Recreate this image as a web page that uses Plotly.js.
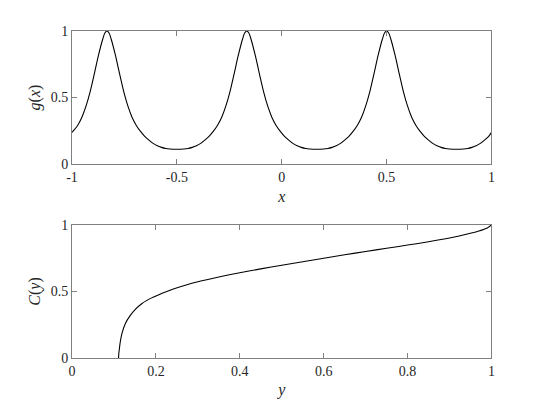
<!DOCTYPE html>
<html>
<head>
<meta charset="utf-8">
<script src="https://cdn.plot.ly/plotly-3.0.1.min.js"></script>
<style>
html,body{margin:0;padding:0;background:#fff;}
#plot{width:545px;height:409px;}
</style>
</head>
<body>
<div id="plot"></div>
<script>
// Top panel: g(x)
const gX = [-1.0,-0.9733,-0.9533,-0.9333,-0.9133,-0.8933,-0.8733,-0.8533,-0.8433,-0.8333,
  -0.8233,-0.8133,-0.7933,-0.7733,-0.7533,-0.7333,-0.7133,-0.6933,-0.6733,-0.6533,-0.6333,-0.6133,-0.5933,-0.5733,-0.5533,-0.5333,-0.5,
  -0.4667,-0.4467,-0.4267,-0.4067,-0.3867,-0.3667,-0.3467,-0.3267,-0.3067,-0.2867,-0.2667,-0.2467,-0.2267,-0.2067,-0.1867,-0.1767,-0.1667,
  -0.1567,-0.1467,-0.1267,-0.1067,-0.0867,-0.0667,-0.0467,-0.0267,-0.0067,0.0133,0.0333,0.0533,0.0733,0.0933,0.1133,0.1333,0.1667,
  0.2,0.22,0.24,0.26,0.28,0.30,0.32,0.34,0.36,0.38,0.40,0.42,0.44,0.46,0.48,0.49,0.5,
  0.51,0.52,0.54,0.56,0.58,0.60,0.62,0.64,0.66,0.68,0.70,0.72,0.74,0.76,0.78,0.80,0.8333,
  0.8667,0.8867,0.9067,0.9267,0.9467,0.9667,0.9867,1.0];
const gY = [0.238,0.29,0.35,0.435,0.545,0.68,0.82,0.94,0.985,1.0,
  0.985,0.94,0.82,0.68,0.545,0.435,0.35,0.29,0.245,0.208,0.18,0.155,0.137,0.125,0.117,0.113,0.111,
  0.113,0.117,0.125,0.137,0.155,0.18,0.208,0.245,0.29,0.35,0.435,0.545,0.68,0.82,0.94,0.985,1.0,
  0.985,0.94,0.82,0.68,0.545,0.435,0.35,0.29,0.245,0.208,0.18,0.155,0.137,0.125,0.117,0.113,0.111,
  0.113,0.117,0.125,0.137,0.155,0.18,0.208,0.245,0.29,0.35,0.435,0.545,0.68,0.82,0.94,0.985,1.0,
  0.985,0.94,0.82,0.68,0.545,0.435,0.35,0.29,0.245,0.208,0.18,0.155,0.137,0.125,0.117,0.113,0.111,
  0.113,0.117,0.125,0.137,0.155,0.18,0.208,0.238];

// Bottom panel: C(y)
const cY = [0.111,0.1115,0.113,0.115,0.119,0.127,0.139,0.151,0.167,0.19,0.215,0.24,0.27,0.30,0.35,0.40,0.45,0.50,0.55,0.60,0.65,0.70,0.75,0.80,0.85,0.90,0.94,0.97,0.99,1.0];
const cVal = [0,0.03,0.07,0.12,0.183,0.258,0.32,0.366,0.41,0.452,0.487,0.517,0.547,0.573,0.609,0.641,0.670,0.697,0.724,0.750,0.776,0.801,0.825,0.849,0.874,0.902,0.93,0.955,0.978,1.0];

// Tick labels
const topXTicks = [-1,-0.5,0,0.5,1];
const topXLabels = ['-1','-0.5','0','0.5','1'];
const yTicks = [0,0.5,1];
const yLabels = ['0','0.5','1'];
const botXTicks = [0,0.2,0.4,0.6,0.8,1];
const botXLabels = ['0','0.2','0.4','0.6','0.8','1'];

const FAM = 'Liberation Serif, Times New Roman, serif';
const TICKSIZE = 14, TITLESIZE = 16, INK = '#262626';

function makeAxis(extra) {
  const a = {
    showline:true, linecolor:'#808080', linewidth:1, mirror:'ticks',
    ticks:'inside', ticklen:5, tickcolor:'#808080', tickwidth:1,
    showgrid:false, zeroline:false, tickmode:'array', automargin:false,
    tickfont:{family:FAM, size:TICKSIZE, color:INK}
  };
  for (const k in extra) a[k] = extra[k];
  return a;
}

const traces = [
  {x:gX, y:gY, xaxis:'x', yaxis:'y', type:'scatter', mode:'lines',
   line:{color:'#000', width:1.1, shape:'spline', smoothing:0.8}, hoverinfo:'none'},
  {x:cY, y:cVal, xaxis:'x2', yaxis:'y2', type:'scatter', mode:'lines',
   line:{color:'#000', width:1.1, shape:'spline', smoothing:0.8}, hoverinfo:'none'}
];

const layout = {
  width:545, height:409, showlegend:false,
  paper_bgcolor:'#fff', plot_bgcolor:'#fff',
  margin:{l:0,r:0,t:0,b:0},
  font:{family:FAM, size:TICKSIZE, color:INK},
  xaxis: makeAxis({domain:[0.1321,0.9018], range:[-1,1], anchor:'y',
    tickvals:topXTicks, ticktext:topXLabels,
    title:{text:'<i>x</i>', font:{family:FAM, size:TITLESIZE, color:INK}, standoff:6}}),
  yaxis: makeAxis({domain:[0.599,0.9242], range:[0,1], anchor:'x',
    tickvals:yTicks, ticktext:yLabels,
    title:{text:'<i>g</i>(<i>x</i>)', font:{family:FAM, size:TITLESIZE, color:INK}, standoff:6}}),
  xaxis2: makeAxis({domain:[0.1321,0.9018], range:[0,1], anchor:'y2',
    tickvals:botXTicks, ticktext:botXLabels,
    title:{text:'<i>y</i>', font:{family:FAM, size:TITLESIZE, color:INK}, standoff:6}}),
  yaxis2: makeAxis({domain:[0.1247,0.4499], range:[0,1], anchor:'x2',
    tickvals:yTicks, ticktext:yLabels,
    title:{text:'<i>C</i>(<i>y</i>)', font:{family:FAM, size:TITLESIZE, color:INK}, standoff:6}})
};

Plotly.newPlot('plot', traces, layout, {staticPlot:true, displayModeBar:false});
</script>
</body>
</html>
